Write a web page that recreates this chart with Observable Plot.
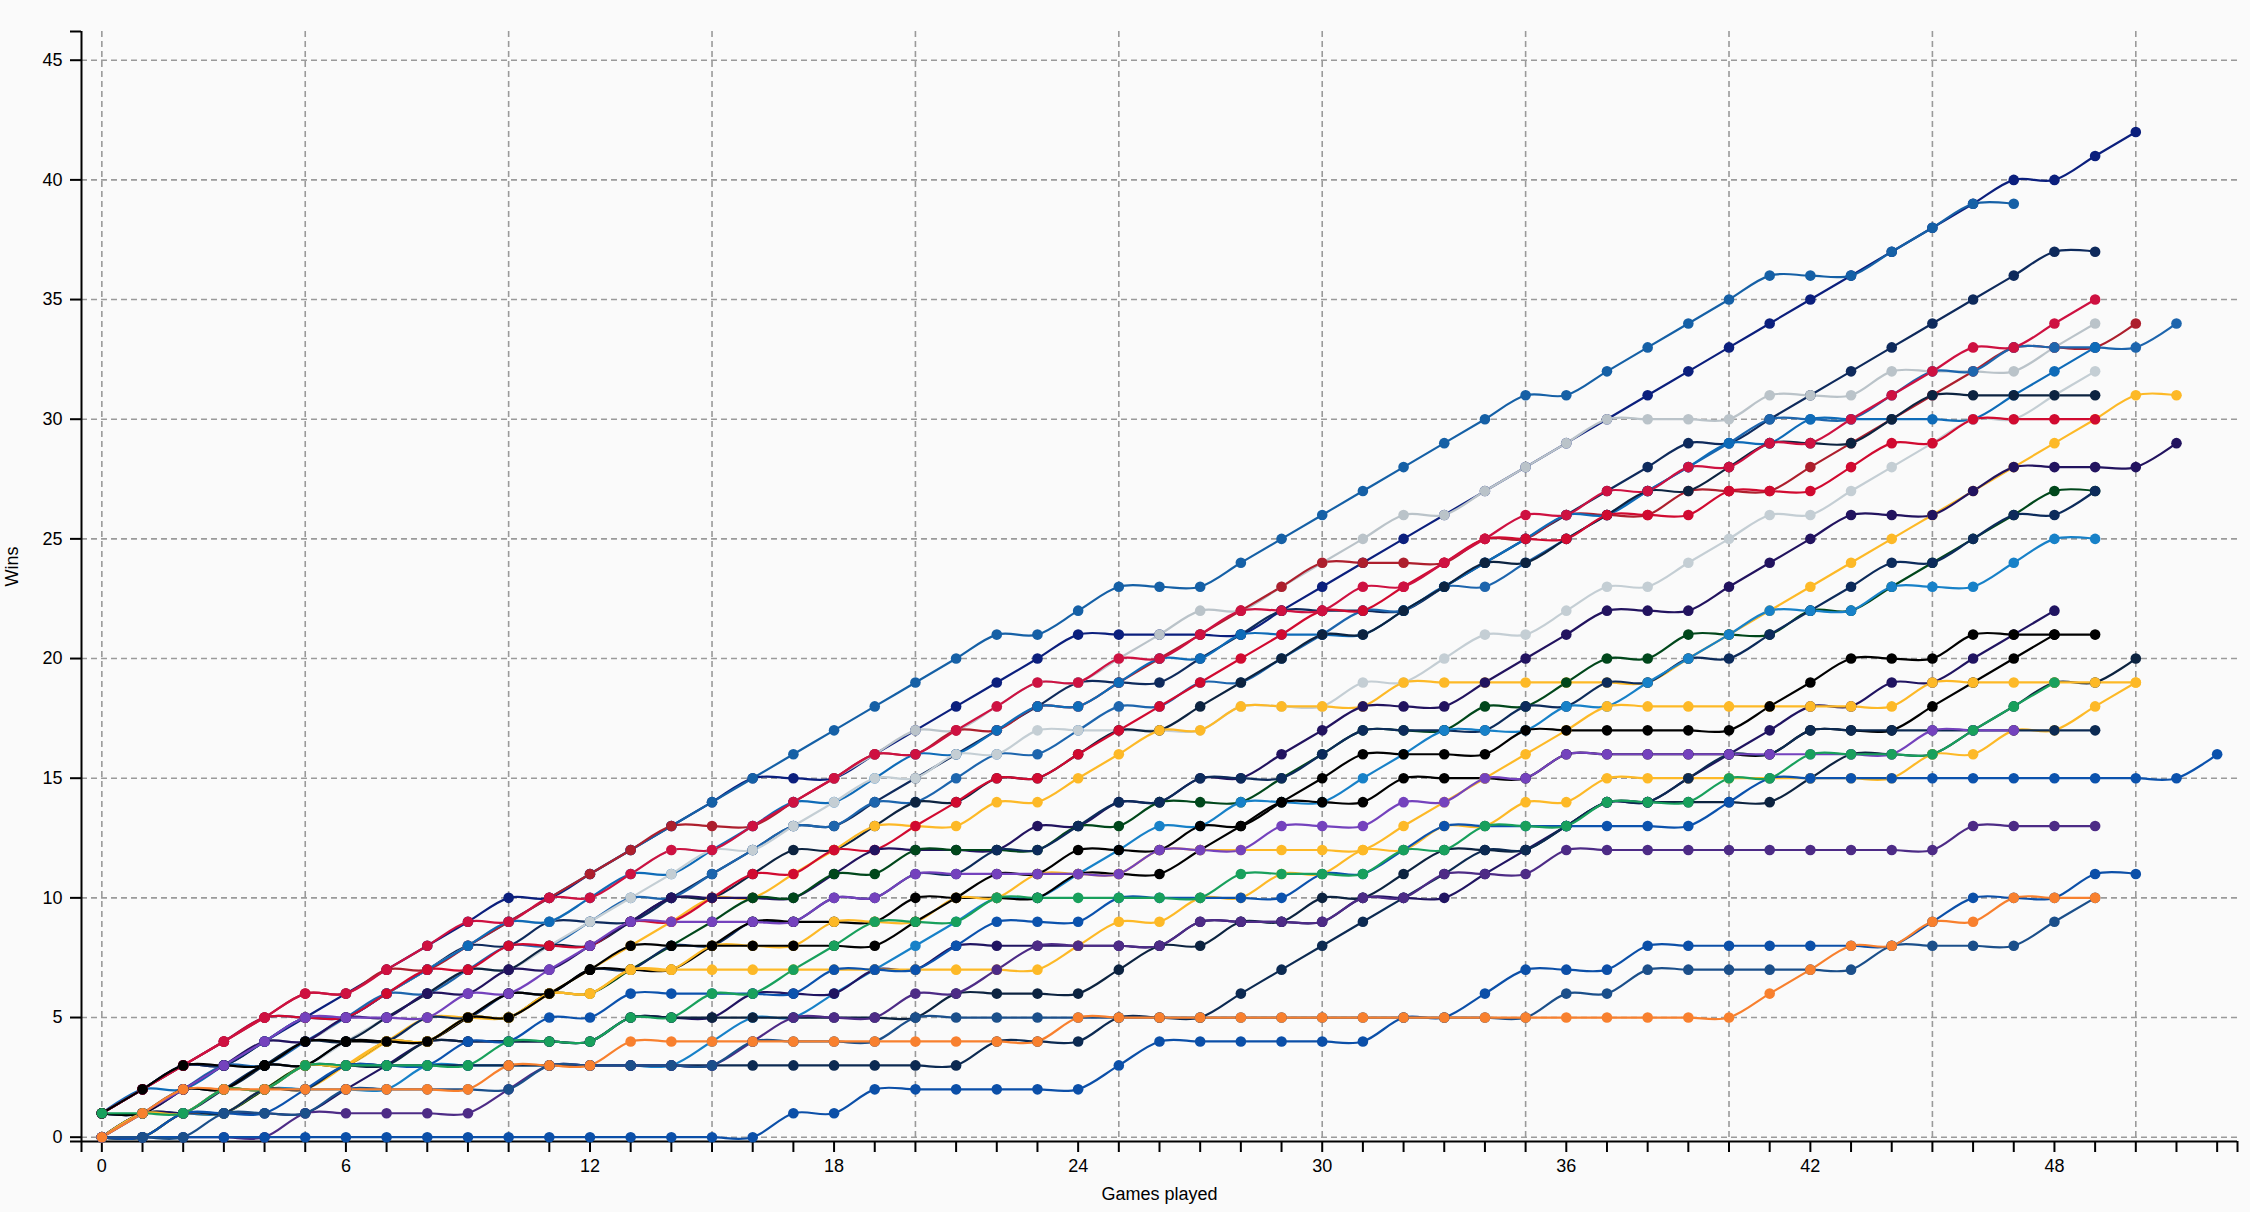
<!DOCTYPE html>
<html><head><meta charset="utf-8">
<script src="https://cdn.jsdelivr.net/npm/d3@7"></script>
<script src="https://cdn.jsdelivr.net/npm/@observablehq/plot@0.6"></script>
<style>
html,body{margin:0;padding:0;background:#fafafa;}
#chart{width:2250px;height:1212px;}
</style></head><body><div id="chart"></div>
<script>
// cumulative wins after each game (index = games played, 0-based)
const navy42   = [1,2,3,3,4,5,6,7,8,9, 10,10,11,12,13,14,15,15,15,16, 17,18,19,20,21,21,21,21,21,22, 23,24,25,26,27,28,29,30,31,32, 33,34,35,36,37,38,39,40,40,41, 42];
const blue39   = [1,2,3,4,5,5,5,6,7,8, 9,10,11,12,13,14,15,16,17,18, 19,20,21,21,22,23,23,23,24,25, 26,27,28,29,30,31,31,32,33,34, 35,36,36,36,37,38,39,39];
const dnavy37  = [1,2,3,3,4,5,5,6,7,8, 8,9,9,9,10,11,12,13,13,14, 15,16,17,18,19,19,19,20,21,22, 22,22,22,23,24,25,26,27,28,29, 29,30,31,32,33,34,35,36,37,37];
const crimson35= [1,2,3,4,5,6,6,7,8,9, 9,10,10,11,12,12,13,14,15,16, 16,17,18,19,19,20,20,21,22,22, 22,23,23,24,25,26,26,27,27,28, 28,29,29,30,31,32,33,33,34,35];
const silver34 = [1,1,2,3,4,4,5,6,7,8, 9,9,10,11,12,12,13,14,15,16, 17,17,18,19,19,20,21,22,22,23, 24,25,26,26,27,28,29,30,30,30, 30,31,31,31,32,32,32,32,33,34];
const dred34   = [1,2,3,4,5,6,6,7,7,8, 9,10,11,12,13,13,13,14,15,16, 16,17,17,18,18,19,20,21,22,23, 24,24,24,24,25,25,26,26,26,27, 27,27,28,29,30,31,32,33,33,33, 34];
const blue34   = [1,1,2,3,3,4,5,6,6,7, 8,8,9,10,10,11,12,13,13,14, 14,15,16,16,17,18,18,19,19,20, 21,22,22,23,23,24,25,26,27,28, 29,30,30,30,31,32,32,33,33,33, 33,34];
const blue33   = [1,2,2,3,4,5,5,6,7,8, 9,9,10,11,11,12,13,14,14,15, 16,16,17,18,18,19,20,20,21,21, 21,21,22,23,24,25,26,26,27,28, 29,29,30,30,30,30,30,31,32,33];
const silver32 = [0,1,1,2,3,3,4,5,6,7, 7,8,9,10,11,12,12,13,14,15, 15,16,16,17,17,17,17,17,18,18, 18,19,19,20,21,21,22,23,23,24, 25,26,26,27,28,29,30,30,31,32];
const navy31   = [0,1,2,2,3,4,4,5,6,7, 7,8,8,9,10,10,11,12,12,13, 14,14,15,15,16,17,17,18,19,20, 21,21,22,23,24,24,25,26,27,27, 28,29,29,29,30,31,31,31,31,31];
const gold31   = [0,1,1,1,2,3,3,4,5,5, 5,6,7,8,9,10,10,11,12,13, 13,13,14,14,15,16,17,17,18,18, 18,18,19,19,19,19,19,19,19,20, 21,22,23,24,25,26,27,28,29,30, 31,31];
const red30    = [1,2,3,4,5,5,5,6,7,7, 8,8,8,9,9,10,11,11,12,12, 13,14,15,15,16,17,18,19,20,21, 22,22,23,24,25,25,25,26,26,26, 27,27,27,28,29,29,30,30,30,30];
const purple29 = [1,1,2,3,4,4,5,5,6,6, 7,7,8,9,10,10,10,10,11,12, 12,12,12,13,13,14,14,15,15,16, 17,18,18,18,19,20,21,22,22,22, 23,24,25,26,26,26,27,28,28,28, 28,29];
const dgreen27 = [0,0,1,1,2,3,3,4,4,5, 5,6,6,7,8,9,10,10,11,11, 12,12,12,12,13,13,14,14,14,15, 16,17,17,17,18,18,19,20,20,21, 21,21,22,22,23,24,25,26,27,27];
const navy27   = [0,1,1,2,3,3,4,4,5,5, 6,6,7,7,8,8,9,9,10,10, 11,11,12,12,13,14,14,15,15,15, 16,17,17,17,17,18,18,19,19,20, 20,21,22,23,24,24,25,26,26,27];
const lblue25  = [0,1,1,1,2,2,2,2,3,3, 3,3,3,3,3,4,5,5,6,7, 8,9,10,10,11,12,13,13,14,14, 14,15,16,17,17,17,18,18,19,20, 21,22,22,22,23,23,23,24,25,25];
const dpurple22= [0,1,1,1,1,1,2,3,4,4, 4,4,4,5,5,5,6,6,6,7, 7,8,8,8,8,8,8,9,9,9, 9,10,10,10,11,12,13,14,14,15, 16,17,18,18,19,19,20,21,22];
const black21  = [1,2,3,3,3,4,4,4,4,5, 5,6,7,8,8,8,8,8,8,8, 9,10,11,11,12,12,12,13,13,14, 15,16,16,16,16,17,17,17,17,17, 17,18,19,20,20,20,21,21,21,21];
const black21b = [1,1,2,2,3,3,4,4,4,5, 6,6,7,7,7,8,9,9,9,9, 10,10,10,10,11,11,11,12,13,14, 14,14,15,15,15,15,16,16,16,16, 16,16,17,17,17,18,19,20,21];
const navy20   = [0,1,1,2,2,3,3,3,4,4, 4,4,4,5,5,5,5,5,5,5, 5,6,6,6,6,7,8,8,9,9, 10,10,11,12,12,12,13,14,14,14, 14,14,15,16,16,16,17,18,19,19, 20];
const gold19a  = [0,1,1,2,2,3,3,4,4,5, 5,6,6,7,7,8,8,8,9,9, 9,10,10,11,11,11,12,12,12,12, 12,12,13,14,15,16,17,18,18,18, 18,18,18,18,18,19,19,19,19,19, 19];
const gold19b  = [0,0,1,1,2,2,3,4,4,5, 5,6,6,7,7,7,7,7,7,7, 7,7,7,7,8,9,9,10,10,11, 11,12,12,13,13,14,14,15,15,15, 15,15,15,15,15,16,16,17,17,18, 19];
const green19  = [1,1,1,2,2,3,3,3,3,3, 4,4,4,5,5,6,6,7,8,9, 9,9,10,10,10,10,10,10,11,11, 11,11,12,12,13,13,13,14,14,14, 15,15,16,16,16,16,17,18,19];
const navy17   = [0,0,1,1,2,2,3,3,3,3, 3,3,3,3,3,3,3,3,3,3, 3,3,4,4,4,5,5,5,6,7, 8,9,10,11,12,12,13,14,14,15, 16,16,17,17,17,17,17,17,17,17];
const purple17 = [0,1,2,3,4,5,5,5,5,6, 6,7,8,9,9,9,9,9,10,10, 11,11,11,11,11,11,12,12,12,13, 13,13,14,14,15,15,16,16,16,16, 16,16,16,16,16,17,17,17];
const blue16   = [0,0,1,1,1,2,3,3,3,4, 4,5,5,6,6,6,6,6,7,7, 7,8,9,9,9,10,10,10,10,10, 11,11,12,13,13,13,13,13,13,13, 14,15,15,15,15,15,15,15,15,15, 15,15,16];
const dpurple13= [0,0,0,0,0,1,1,1,1,1, 2,3,3,3,3,3,4,5,5,5, 6,6,7,8,8,8,8,9,9,9, 9,10,10,11,11,11,12,12,12,12, 12,12,12,12,12,12,13,13,13,13];
const blue11   = [0,0,0,0,0,0,0,0,0,0, 0,0,0,0,0,0,0,1,1,2, 2,2,2,2,2,3,4,4,4,4, 4,4,5,5,6,7,7,7,8,8, 8,8,8,8,8,9,10,10,10,11, 11];
const orange10 = [0,1,2,2,2,2,2,2,2,2, 3,3,3,4,4,4,4,4,4,4, 4,4,4,4,5,5,5,5,5,5, 5,5,5,5,5,5,5,5,5,5, 5,6,7,8,8,9,9,10,10,10];
const dblue10  = [0,0,0,1,1,1,2,2,2,2, 2,3,3,3,3,3,4,4,4,4, 5,5,5,5,5,5,5,5,5,5, 5,5,5,5,5,5,6,6,7,7, 7,7,7,7,8,8,8,8,9,10];

const yTicks = [0,5,10,15,20,25,30,35,40,45];
const xLabelTicks = [0,6,12,18,24,30,36,42,48];
const xGridTicks = [0,5,10,15,20,25,30,35,40,45,50];

// drawing order: first = bottom, last = top
const teams = [
  {name:"navy42", color:"#0b1f7d", wins:navy42},
  {name:"blue39", color:"#1560a6", wins:blue39},
  {name:"dnavy37", color:"#0e2a5c", wins:dnavy37},
  {name:"silver34", color:"#bac3c9", wins:silver34},
  {name:"dred34", color:"#ad1f2d", wins:dred34},
  {name:"blue34", color:"#1d65ad", wins:blue34},
  {name:"blue33", color:"#0e6bb8", wins:blue33},
  {name:"silver32", color:"#c4ced4", wins:silver32},
  {name:"navy31", color:"#0c2340", wins:navy31},
  {name:"gold31", color:"#fdb927", wins:gold31},
  {name:"red30", color:"#d10a30", wins:red30},
  {name:"purple29", color:"#22135f", wins:purple29},
  {name:"dgreen27", color:"#00471b", wins:dgreen27},
  {name:"navy27", color:"#0c2b5b", wins:navy27},
  {name:"lblue25", color:"#1781c8", wins:lblue25},
  {name:"dpurple22", color:"#201461", wins:dpurple22},
  {name:"black21b", color:"#000000", wins:black21b},
  {name:"navy20", color:"#0c2340", wins:navy20},
  {name:"gold19a", color:"#fdb927", wins:gold19a},
  {name:"gold19b", color:"#fdb927", wins:gold19b},
  {name:"navy17", color:"#0c2a52", wins:navy17},
  {name:"blue16", color:"#0b52ad", wins:blue16},
  {name:"dpurple13", color:"#4d2b86", wins:dpurple13},
  {name:"blue11", color:"#0b4fa8", wins:blue11},
  {name:"dblue10", color:"#1b4f8a", wins:dblue10},
  {name:"crimson35", color:"#ce1141", wins:crimson35},
  {name:"black21", color:"#000000", wins:black21},
  {name:"purple17", color:"#7442bd", wins:purple17},
  {name:"green19", color:"#18a05c", wins:green19},
  {name:"orange10", color:"#f8802e", wins:orange10}
];

const rows = teams.flatMap(t => t.wins.map((w, i) => ({team: t.name, color: t.color, game: i, wins: w})));

const gridStyle = {stroke: "#9a9a9a", strokeOpacity: 1, strokeWidth: 1.6, strokeDasharray: "6,4"};

const chart = Plot.plot({
  width: 2250,
  height: 1212,
  marginLeft: 81,
  marginRight: 13,
  marginTop: 31,
  marginBottom: 71,
  style: {background: "#fafafa", fontFamily: "'Liberation Sans', Arial, Helvetica, sans-serif", fontSize: "18px", color: "#000"},
  x: {domain: [-0.5, 52.5], label: null},
  y: {domain: [-0.18, 46.2], label: null},
  color: {type: "identity"},
  marks: [
    Plot.gridX(xGridTicks, gridStyle),
    Plot.gridY(yTicks, gridStyle),
    Plot.ruleX([-0.5], {stroke: "#000", strokeWidth: 2}),
    Plot.ruleY([-0.18], {stroke: "#000", strokeWidth: 2}),
    Plot.axisY(yTicks, {tickSize: 11, tickPadding: 8, fontSize: 18, strokeWidth: 2, label: null}),
    Plot.axisY([-0.18, 46.2], {tickSize: 11, tickFormat: () => "", strokeWidth: 2, label: null}),
    Plot.axisX(d3.range(0, 53), {tickSize: 11, tickPadding: 7, fontSize: 18, strokeWidth: 2, label: null,
      tickFormat: d => xLabelTicks.includes(d) ? String(d) : ""}),
    Plot.axisX([-0.5, 52.5], {tickSize: 11, tickFormat: () => "", strokeWidth: 2, label: null}),
    Plot.line(rows, {x: "game", y: "wins", z: "team", stroke: "color", strokeWidth: 2.2, curve: "cardinal"}),
    Plot.dot(rows, {x: "game", y: "wins", fill: "color", r: 5.3}),
    Plot.text(["Wins"], {text: d => d, frameAnchor: "left", dx: -69, rotate: -90, fontSize: 18}),
    Plot.text(["Games played"], {text: d => d, frameAnchor: "bottom", dy: 58, fontSize: 18})
  ]
});
document.getElementById("chart").append(chart);
</script></body></html>
